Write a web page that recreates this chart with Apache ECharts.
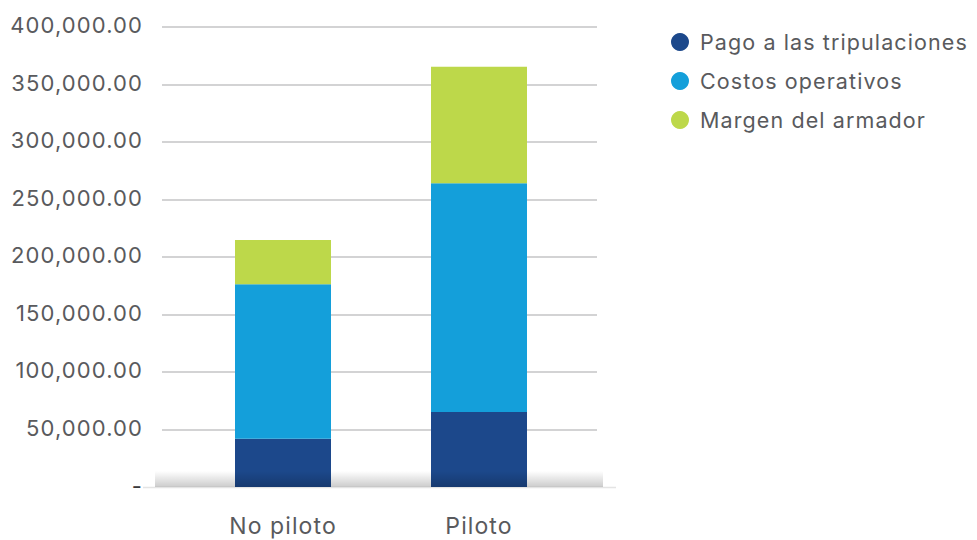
<!DOCTYPE html>
<html>
<head>
<meta charset="utf-8">
<script src="https://cdn.jsdelivr.net/npm/echarts@6/dist/echarts.min.js"></script>
<style>
html,body{margin:0;padding:0;background:#fff;}
#c{width:977px;height:540px;}
#c svg text{letter-spacing:1.1px;}
</style>
</head>
<body>
<div id="c"></div>
<script>
const categories = ['No piloto', 'Piloto'];
const seriesNames = ['Pago a las tripulaciones', 'Costos operativos', 'Margen del armador'];
const pagoTripulaciones = [42000, 65300];
const costosOperativos = [134200, 198800];
const margenArmador = [38500, 101400];
const yTicks = { min: 0, max: 400000, interval: 50000 };

const colors = ['#1C488B', '#149FDA', '#BDD84A'];
const textColor = '#595a5d';
const fontFamily = 'Inter, Roboto, sans-serif';

function fmt(v) {
  if (v === 0) return '{z|-}';
  const s = Math.round(v).toString().replace(/\B(?=(\d{3})+(?!\d))/g, ',');
  return s + '.00';
}

const G = { top: 27, bottom: 53 };
const chart = echarts.init(document.getElementById('c'), null, { renderer: 'svg' });
const seriesData = [pagoTripulaciones, costosOperativos, margenArmador];

chart.setOption({
  animation: false,
  textStyle: { fontFamily: fontFamily },
  grid: [
    { left: 162, right: 380, top: G.top, bottom: G.bottom },
    { left: 185, right: 400, top: G.top, bottom: G.bottom }
  ],
  legend: {
    orient: 'vertical',
    left: 666,
    top: 26,
    itemGap: 17,
    itemWidth: 18,
    itemHeight: 18,
    icon: 'circle',
    textStyle: { fontSize: 21.5, color: textColor, fontFamily: fontFamily, padding: [0, 0, 0, 6] },
    data: seriesNames
  },
  xAxis: [
    { type: 'category', gridIndex: 0, data: categories, show: false },
    {
      type: 'category', gridIndex: 1, data: categories,
      axisLine: { show: false }, axisTick: { show: false },
      axisLabel: { fontSize: 23, color: textColor, margin: 27, fontFamily: fontFamily }
    }
  ],
  yAxis: [
    {
      type: 'value', gridIndex: 0, min: yTicks.min, max: yTicks.max, interval: yTicks.interval,
      axisLine: { show: false }, axisTick: { show: false },
      axisLabel: {
        fontSize: 22, color: textColor, margin: 19, formatter: fmt, fontFamily: fontFamily, padding: [0, 0, 4, 0],
        rich: { z: { fontSize: 22, color: '#3a3a3c', fontFamily: fontFamily, padding: [0, 0, -2, 0] } }
      },
      splitLine: { show: true, showMinLine: false, lineStyle: { color: '#c4c4c6', width: 1.5 } }
    },
    {
      type: 'value', gridIndex: 1, min: yTicks.min, max: yTicks.max, interval: yTicks.interval,
      show: false, splitLine: { show: false }
    }
  ],
  series: seriesNames.map((name, i) => ({
    name: name,
    type: 'bar',
    stack: 'total',
    xAxisIndex: 1,
    yAxisIndex: 1,
    barWidth: 96,
    itemStyle: { color: colors[i] },
    data: seriesData[i]
  })),
  graphic: [
    {
      type: 'rect',
      z: 100,
      silent: true,
      shape: { x: 155, y: 540 - G.bottom - 16, width: 448, height: 16 },
      style: {
        fill: new echarts.graphic.LinearGradient(0, 0, 0, 1, [
          { offset: 0, color: 'rgba(0,0,0,0)' },
          { offset: 1, color: 'rgba(0,0,0,0.2)' }
        ])
      }
    },
    {
      type: 'line',
      z: 0,
      silent: true,
      shape: { x1: 143, y1: 540 - G.bottom + 0.5, x2: 616, y2: 540 - G.bottom + 0.5 },
      style: { stroke: '#e4e4e4', lineWidth: 1.5 }
    }
  ]
});
</script>
</body>
</html>
